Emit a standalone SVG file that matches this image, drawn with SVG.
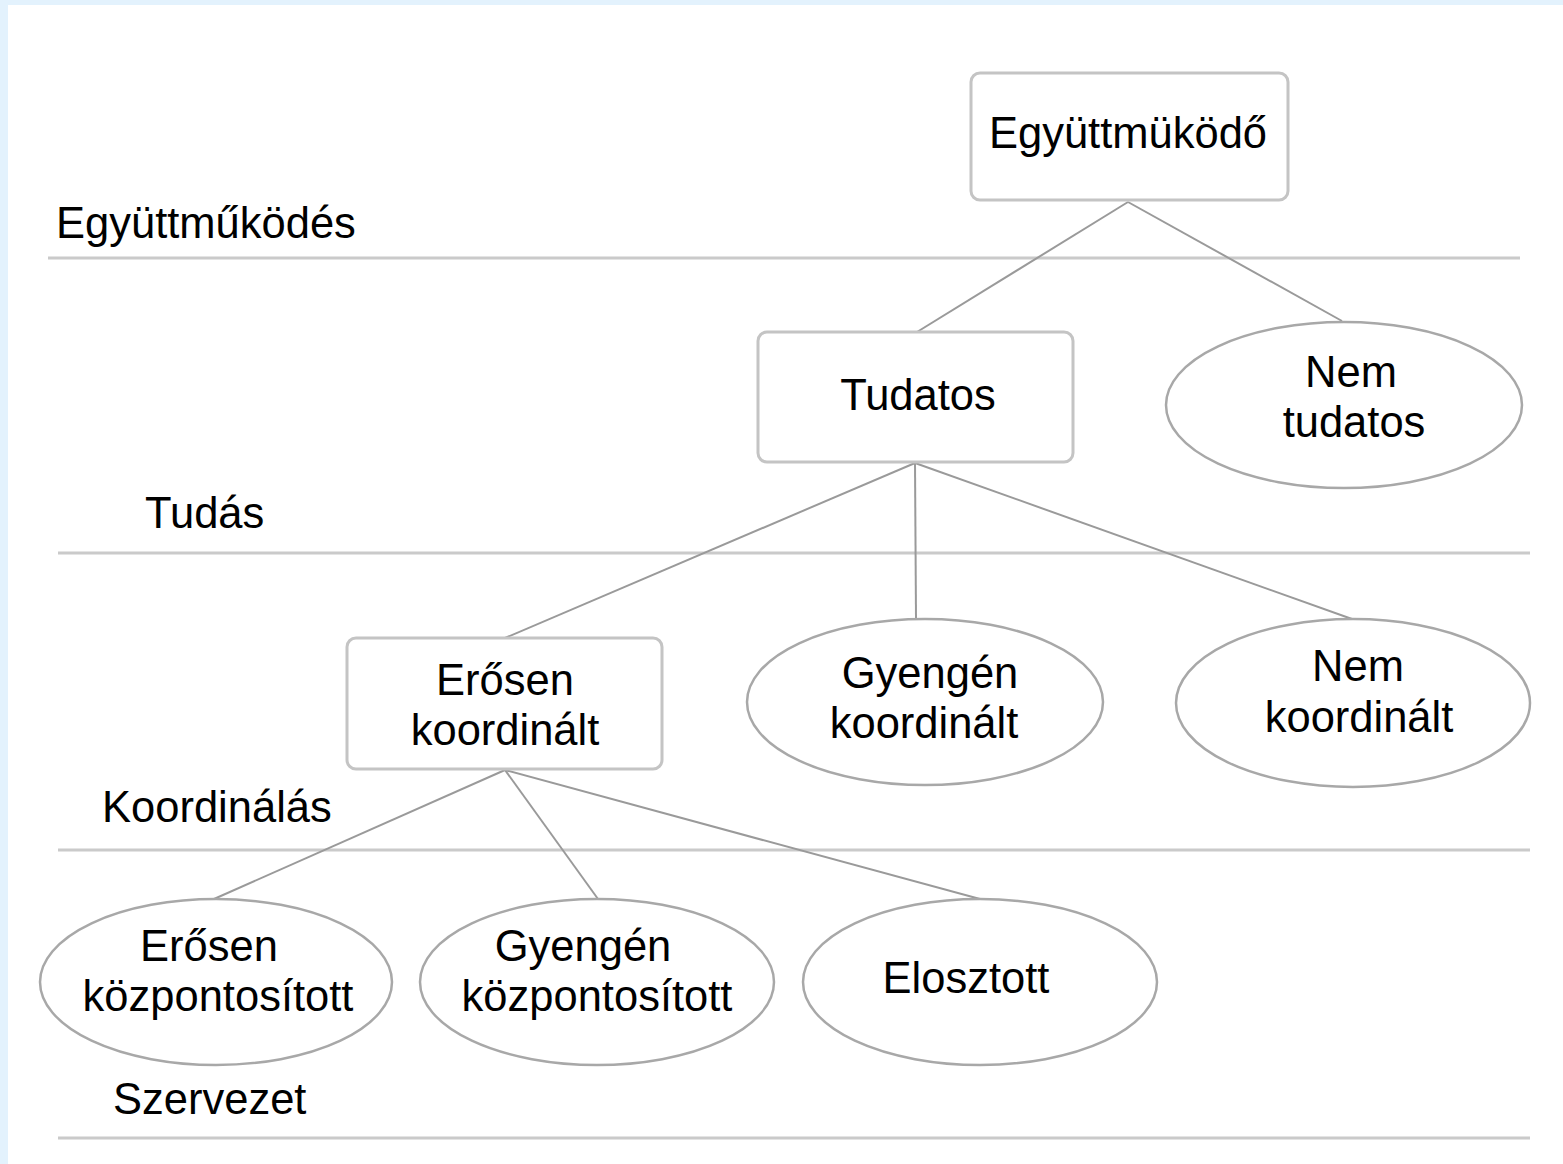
<svg xmlns="http://www.w3.org/2000/svg" width="1563" height="1164" viewBox="0 0 1563 1164">
  <style>
    .t { font-family: "Liberation Sans", Arial, sans-serif; font-size: 43.5px; fill: #000; }
    .c { text-anchor: middle; }
    .sep { stroke: #cacaca; stroke-width: 3; fill: none; }
    .box { fill: #fff; stroke: #c4c4c4; stroke-width: 3; }
    .oval { fill: #fff; stroke: #a8a8a8; stroke-width: 2.5; }
    .edge { stroke: #9a9a9a; stroke-width: 2; fill: none; }
  </style>

  <!-- page frame -->
  <rect x="0" y="0" width="1563" height="1164" fill="#e3f2fd"/>
  <rect x="8" y="5" width="1555" height="1159" fill="#fff"/>

  <!-- layer separators and layer names -->
  <g id="layers">
    <line class="sep" x1="48" y1="258" x2="1520" y2="258"/>
    <line class="sep" x1="58" y1="553" x2="1530" y2="553"/>
    <line class="sep" x1="58" y1="850" x2="1530" y2="850"/>
    <line class="sep" x1="58" y1="1138" x2="1530" y2="1138"/>
    <text class="t" x="56" y="238">Együttműködés</text>
    <text class="t" x="145" y="528">Tudás</text>
    <text class="t" x="102" y="822">Koordinálás</text>
    <text class="t" x="113" y="1114">Szervezet</text>
  </g>

  <!-- connectors -->
  <g id="connectors">
    <line class="edge" x1="1128" y1="202" x2="917" y2="332"/>
    <line class="edge" x1="1128" y1="202" x2="1342" y2="321"/>
    <line class="edge" x1="915" y1="463" x2="505" y2="638"/>
    <line class="edge" x1="915" y1="463" x2="916" y2="618"/>
    <line class="edge" x1="915" y1="463" x2="1352" y2="619"/>
    <line class="edge" x1="505" y1="770" x2="214" y2="899"/>
    <line class="edge" x1="505" y1="770" x2="598" y2="899"/>
    <line class="edge" x1="505" y1="770" x2="980" y2="899"/>
  </g>

  <g id="node-egyuttmukodo">
    <rect class="box" x="971" y="73" width="317" height="127" rx="9"/>
    <text class="t c" x="1128" y="148">Együttmüködő</text>
  </g>

  <g id="node-tudatos">
    <rect class="box" x="758" y="332" width="315" height="130" rx="9"/>
    <text class="t c" x="918" y="410">Tudatos</text>
  </g>

  <g id="node-nem-tudatos">
    <ellipse class="oval" cx="1344" cy="405" rx="178" ry="83"/>
    <text class="t c" x="1351" y="387">Nem</text>
    <text class="t c" x="1354" y="437">tudatos</text>
  </g>

  <g id="node-erosen-koordinalt">
    <rect class="box" x="347" y="638" width="315" height="131" rx="9"/>
    <text class="t c" x="505" y="695">Erősen</text>
    <text class="t c" x="505" y="745">koordinált</text>
  </g>

  <g id="node-gyengen-koordinalt">
    <ellipse class="oval" cx="925" cy="702" rx="178" ry="83"/>
    <text class="t c" x="930" y="688">Gyengén</text>
    <text class="t c" x="924" y="738">koordinált</text>
  </g>

  <g id="node-nem-koordinalt">
    <ellipse class="oval" cx="1353" cy="703" rx="177" ry="84"/>
    <text class="t c" x="1358" y="681">Nem</text>
    <text class="t c" x="1359" y="732">koordinált</text>
  </g>

  <g id="node-erosen-kozpontositott">
    <ellipse class="oval" cx="216" cy="982" rx="176" ry="83"/>
    <text class="t c" x="209" y="961">Erősen</text>
    <text class="t c" x="218" y="1011">központosított</text>
  </g>

  <g id="node-gyengen-kozpontositott">
    <ellipse class="oval" cx="597" cy="982" rx="177" ry="83"/>
    <text class="t c" x="583" y="961">Gyengén</text>
    <text class="t c" x="597" y="1011">központosított</text>
  </g>

  <g id="node-elosztott">
    <ellipse class="oval" cx="980" cy="982" rx="177" ry="83"/>
    <text class="t c" x="966" y="993">Elosztott</text>
  </g>
</svg>
